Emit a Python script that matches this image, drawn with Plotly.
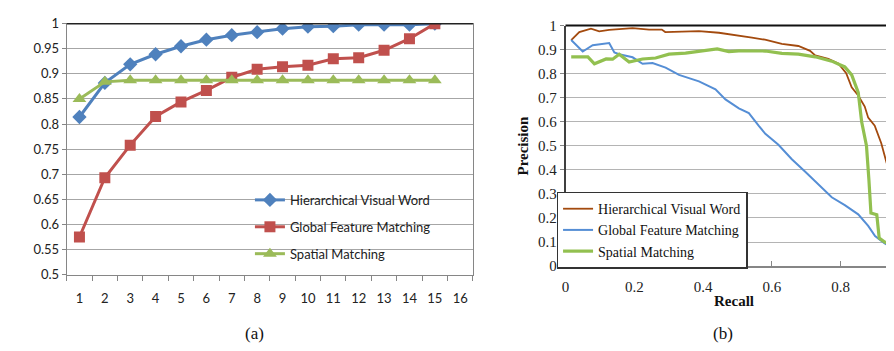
import plotly.graph_objects as go

# ---------------- Panel (a) data ----------------
rank_labels = ["1", "2", "3", "4", "5", "6", "7", "8", "9", "10", "11", "12", "13", "14", "15", "16"]
rank_x = ["1", "2", "3", "4", "5", "6", "7", "8", "9", "10", "11", "12", "13", "14", "15"]
a_hvw = [0.814, 0.882, 0.919, 0.939, 0.955, 0.968, 0.977, 0.983, 0.990, 0.994, 0.995, 0.998, 0.998, 0.998, 1.000]
a_gfm = [0.575, 0.693, 0.758, 0.815, 0.844, 0.867, 0.893, 0.909, 0.914, 0.917, 0.930, 0.932, 0.947, 0.970, 1.000]
a_sm = [0.850, 0.884, 0.887, 0.887, 0.887, 0.887, 0.887, 0.887, 0.887, 0.887, 0.887, 0.887, 0.887, 0.887, 0.887]
a_yticks = [0.5, 0.55, 0.6, 0.65, 0.7, 0.75, 0.8, 0.85, 0.9, 0.95, 1.0]
a_ytext = ["0.5", "0.55", "0.6", "0.65", "0.7", "0.75", "0.8", "0.85", "0.9", "0.95", "1"]

# ---------------- Panel (b) data ----------------
rec_hvw = [0.0165, 0.04, 0.074, 0.098, 0.127, 0.195, 0.243, 0.28, 0.29, 0.388, 0.446, 0.484, 0.542, 0.58,
           0.629, 0.677, 0.711, 0.726, 0.764, 0.793, 0.816, 0.832, 0.851, 0.87, 0.88, 0.899, 0.918, 0.933,
           0.943, 0.952, 0.962, 0.976]
prec_hvw = [0.939, 0.973, 0.987, 0.976, 0.982, 0.989, 0.983, 0.983, 0.973, 0.977, 0.970, 0.963, 0.950, 0.941,
            0.924, 0.915, 0.895, 0.876, 0.862, 0.842, 0.802, 0.743, 0.709, 0.663, 0.617, 0.584, 0.511, 0.432,
            0.392, 0.31, 0.25, 0.18]
rec_gfm = [0.0165, 0.05, 0.079, 0.118, 0.127, 0.142, 0.156, 0.195, 0.224, 0.253, 0.291, 0.33, 0.388, 0.436,
           0.465, 0.504, 0.533, 0.562, 0.581, 0.619, 0.658, 0.697, 0.735, 0.774, 0.812, 0.851, 0.88, 0.9,
           0.928, 0.947, 0.976]
prec_gfm = [0.940, 0.892, 0.918, 0.923, 0.927, 0.888, 0.881, 0.868, 0.841, 0.844, 0.825, 0.795, 0.768, 0.735,
            0.693, 0.656, 0.636, 0.583, 0.550, 0.504, 0.444, 0.392, 0.339, 0.286, 0.253, 0.215, 0.167, 0.125,
            0.094, 0.081, 0.067]
rec_sm = [0.0165, 0.065, 0.084, 0.118, 0.137, 0.156, 0.185, 0.224, 0.262, 0.301, 0.349, 0.388, 0.441, 0.475,
          0.504, 0.581, 0.629, 0.677, 0.726, 0.774, 0.812, 0.832, 0.851, 0.861, 0.875, 0.882, 0.888, 0.905,
          0.912, 0.928, 0.947, 0.978]
prec_sm = [0.870, 0.870, 0.841, 0.861, 0.860, 0.881, 0.848, 0.861, 0.865, 0.881, 0.885, 0.892, 0.903, 0.892,
           0.895, 0.894, 0.884, 0.881, 0.870, 0.852, 0.828, 0.795, 0.722, 0.600, 0.500, 0.360, 0.220, 0.213,
           0.116, 0.100, 0.090, 0.075]
b_yticks = [0, 0.1, 0.2, 0.3, 0.4, 0.5, 0.6, 0.7, 0.8, 0.9, 1.0]
b_ytext = ["0", "0.1", "0.2", "0.3", "0.4", "0.5", "0.6", "0.7", "0.8", "0.9", "1"]
b_xticks = [0, 0.2, 0.4, 0.6, 0.8]
b_xtext = ["0", "0.2", "0.4", "0.6", "0.8"]

names = ["Hierarchical Visual Word", "Global Feature Matching", "Spatial Matching"]

SANS = "Lato, 'Liberation Sans', Arial, sans-serif"
SERIF = "'Liberation Serif', 'Times New Roman', serif"

fig = go.Figure()

# panel (a)
fig.add_trace(go.Scatter(x=rank_x, y=a_hvw, name=names[0], mode="lines+markers",
                         line=dict(color="#4F81BD", width=3),
                         marker=dict(symbol="diamond", size=11, color="#4F81BD"),
                         xaxis="x", yaxis="y", legend="legend", legendgroup="a1"))
fig.add_trace(go.Scatter(x=rank_x, y=a_gfm, name=names[1], mode="lines+markers",
                         line=dict(color="#C0504D", width=3),
                         marker=dict(symbol="square", size=11, color="#C0504D"),
                         xaxis="x", yaxis="y", legend="legend", legendgroup="a2"))
fig.add_trace(go.Scatter(x=rank_x, y=a_sm, name=names[2], mode="lines+markers",
                         line=dict(color="#9BBB59", width=3),
                         marker=dict(symbol="triangle-up", size=12, color="#9BBB59"),
                         xaxis="x", yaxis="y", legend="legend", legendgroup="a3"))

# panel (b)
fig.add_trace(go.Scatter(x=rec_hvw, y=prec_hvw, name=names[0], mode="lines",
                         line=dict(color="#A34A0E", width=1.8),
                         xaxis="x2", yaxis="y2", legend="legend2"))
fig.add_trace(go.Scatter(x=rec_gfm, y=prec_gfm, name=names[1], mode="lines",
                         line=dict(color="#558ED5", width=2),
                         xaxis="x2", yaxis="y2", legend="legend2"))
fig.add_trace(go.Scatter(x=rec_sm, y=prec_sm, name=names[2], mode="lines",
                         line=dict(color="#92C050", width=3.2),
                         xaxis="x2", yaxis="y2", legend="legend2"))

W, H = 894, 351
fig.update_layout(
    width=W, height=H,
    margin=dict(l=0, r=0, t=0, b=0),
    paper_bgcolor="white", plot_bgcolor="white",
    showlegend=True,
    xaxis=dict(domain=[55 / W, 463 / W], anchor="y", type="category", categoryarray=rank_labels,
               categoryorder="array", tickvals=rank_labels, range=[-0.5, 15.5],
               tickson="boundaries", ticks="outside", ticklen=5, tickcolor="#868686",
               showline=True, linecolor="#868686", linewidth=1, mirror=True,
               showgrid=False, zeroline=False, ticklabelstandoff=12,
               tickfont=dict(family=SANS, size=13, color="#222")),
    yaxis=dict(domain=[(H - 271) / H, (H - 8) / H], anchor="x", range=[0.5, 1.0],
               tickvals=a_yticks, ticktext=a_ytext, ticks="outside", ticklen=4,
               tickcolor="#868686", showline=True, linecolor="#868686", mirror=True,
               showgrid=True, gridcolor="#A6A6A6", gridwidth=1, zeroline=False,
               tickfont=dict(family=SANS, size=13, color="#222")),
    xaxis2=dict(domain=[556 / W, 1.0], anchor="y2", range=[0, (894 - 556) / 345.5],
                tickvals=b_xticks, ticktext=b_xtext, ticks="inside", ticklen=5,
                tickcolor="#868686", showline=True, linecolor="#868686", linewidth=1.5,
                showgrid=False, zeroline=False, ticklabelstandoff=6,
                tickfont=dict(family=SERIF, size=15, color="#222")),
    yaxis2=dict(domain=[(H - 262) / H, (H - 10) / H], anchor="x2", range=[0, 1.0],
                tickvals=b_yticks, ticktext=b_ytext, ticks="outside", ticklen=4,
                tickcolor="#868686", showline=True, linecolor="#404040", linewidth=1.5,
                showgrid=True, gridcolor="#B4B4B4", gridwidth=1.3, zeroline=False,
                tickfont=dict(family=SERIF, size=15, color="#222")),
    legend=dict(x=239 / W, y=(H - 177) / H, xanchor="left", yanchor="top",
                bgcolor="rgba(0,0,0,0)", borderwidth=0, tracegroupgap=7,
                font=dict(family=SANS, size=13, color="#222")),
    legend2=dict(x=547 / W, y=(H - 184) / H, xanchor="left", yanchor="top",
                 bgcolor="white", bordercolor="#333", borderwidth=1.5,
                 font=dict(family=SERIF, size=14, color="#111")),
    shapes=[
        dict(type="line", xref="x domain", yref="y domain", x0=0, x1=1, y0=1, y1=1,
             line=dict(color="#222", width=1.5)),
        dict(type="line", xref="x2 domain", yref="y2 domain", x0=0, x1=1, y0=1, y1=1,
             line=dict(color="#111", width=2)),
    ],
    annotations=[
        dict(text="Precision", textangle=-90, xref="paper", yref="paper",
             x=513 / W, y=(H - 136) / H, xanchor="center", yanchor="middle", showarrow=False,
             font=dict(family=SERIF, size=15, color="#111", weight="bold")),
        dict(text="Recall", xref="paper", yref="paper", x=725 / W, y=(H - 299) / H,
             xanchor="center", yanchor="middle",
             showarrow=False, font=dict(family=SERIF, size=15, color="#111", weight="bold")),
        dict(text="(a)", xref="paper", yref="paper", x=244 / W, y=(H - 333) / H,
             xanchor="center", yanchor="middle",
             showarrow=False, font=dict(family=SERIF, size=17, color="#111")),
        dict(text="(b)", xref="paper", yref="paper", x=714 / W, y=(H - 333) / H,
             xanchor="center", yanchor="middle",
             showarrow=False, font=dict(family=SERIF, size=17, color="#111")),
    ],
)

fig.write_html("out.html")
